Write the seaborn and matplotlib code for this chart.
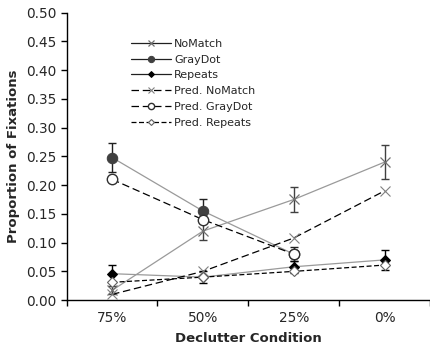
import numpy as np
import pandas as pd
import seaborn as sns
import matplotlib
matplotlib.use("Agg")
import matplotlib.pyplot as plt
from matplotlib.ticker import FixedLocator, FormatStrFormatter

conditions = ["75%", "50%", "25%", "0%"]

nomatch = [0.017, 0.120, 0.175, 0.240]
nomatch_err = [0.007, 0.015, 0.022, 0.030]
graydot = [0.248, 0.155, 0.080, np.nan]
graydot_err = [0.026, 0.021, 0.012, np.nan]
repeats = [0.046, 0.040, 0.058, 0.070]
repeats_err = [0.015, 0.010, 0.010, 0.017]
pred_nomatch = [0.010, 0.050, 0.108, 0.190]
pred_graydot = [0.210, 0.140, 0.080, np.nan]
pred_repeats = [0.031, 0.040, 0.050, 0.061]

sns.set_style("ticks")
plt.rcParams['font.family'] = ['DejaVu Sans']

fig = plt.figure(figsize=(4.30, 3.49), dpi=100)
ax = fig.add_axes([0.155, 0.140, 0.845, 0.824])

xpos = np.arange(len(conditions)) + 0.5

series = [
    ("NoMatch", nomatch, nomatch_err, dict(color="#9a9a9a", linestyle="-", marker="x",
                                            markersize=7, markeredgecolor="#707070",
                                            markerfacecolor="#707070", markeredgewidth=0.9), "#404040"),
    ("GrayDot", graydot, graydot_err, dict(color="#9a9a9a", linestyle="-", marker="o",
                                            markersize=7.5, markeredgecolor="#404040",
                                            markerfacecolor="#404040"), "#202020"),
    ("Repeats", repeats, repeats_err, dict(color="#9a9a9a", linestyle="-", marker="D",
                                            markersize=5, markeredgecolor="black",
                                            markerfacecolor="black"), "black"),
    ("Pred. NoMatch", pred_nomatch, None, dict(color="black", linestyle=(0, (6, 3)), marker="x",
                                                markersize=6.5, markeredgecolor="#808080",
                                                markeredgewidth=0.8), None),
    ("Pred. GrayDot", pred_graydot, None, dict(color="black", linestyle=(0, (6, 3)), marker="o",
                                                markersize=7.5, markeredgecolor="#303030",
                                                markerfacecolor="white", markeredgewidth=1.0), None),
    ("Pred. Repeats", pred_repeats, None, dict(color="black", linestyle=(0, (4, 2)), marker="D",
                                                markersize=5, markeredgecolor="#606060",
                                                markerfacecolor="white", markeredgewidth=0.8), None),
]

for name, vals, errs, style, ecol in series:
    df = pd.DataFrame({"x": xpos, "y": vals}).dropna()
    if errs is not None:
        e = np.array(errs)
        mask = ~np.isnan(np.array(vals, dtype=float))
        ax.errorbar(xpos[mask], np.array(vals)[mask], yerr=e[mask], fmt="none",
                    ecolor=ecol, elinewidth=1.0, capsize=3, capthick=1.0, zorder=2)
    sns.lineplot(data=df, x="x", y="y", ax=ax, label=name, linewidth=0.9,
                 zorder=3, **style)

ax.set_xlim(0, 4)
ax.set_ylim(0, 0.5)
ax.yaxis.set_major_locator(FixedLocator(np.arange(0, 0.501, 0.05)))
ax.yaxis.set_major_formatter(FormatStrFormatter("%.2f"))
ax.xaxis.set_major_locator(FixedLocator([0, 1, 2, 3, 4]))
ax.xaxis.set_major_formatter(plt.NullFormatter())
ax.set_xticks(xpos, minor=True)
ax.set_xticklabels(conditions, minor=True)
ax.tick_params(axis="x", which="minor", length=0, pad=8, labelsize=9.8)
ax.tick_params(axis="x", which="major", length=4, width=1, color="black")
ax.tick_params(axis="y", length=4, width=1, labelsize=9.8, color="black")
for s in ["top", "right"]:
    ax.spines[s].set_visible(False)
for s in ["left", "bottom"]:
    ax.spines[s].set_color("black")
    ax.spines[s].set_linewidth(1.0)

ax.set_xlabel("Declutter Condition", fontsize=9.5, fontweight="bold", labelpad=5)
ax.set_ylabel("Proportion of Fixations", fontsize=9.5, fontweight="bold", labelpad=4)

leg = ax.legend(loc="upper left", bbox_to_anchor=(123 / 430, 1 - 31 / 349),
                bbox_transform=fig.transFigure, frameon=False, fontsize=8,
                handlelength=3.6, handletextpad=0.3, labelspacing=0.52,
                borderpad=0.2, markerscale=0.6)
for ln in leg.get_lines()[:3]:
    ln.set_color("#202020")

fig.savefig("out.png", dpi=100)
